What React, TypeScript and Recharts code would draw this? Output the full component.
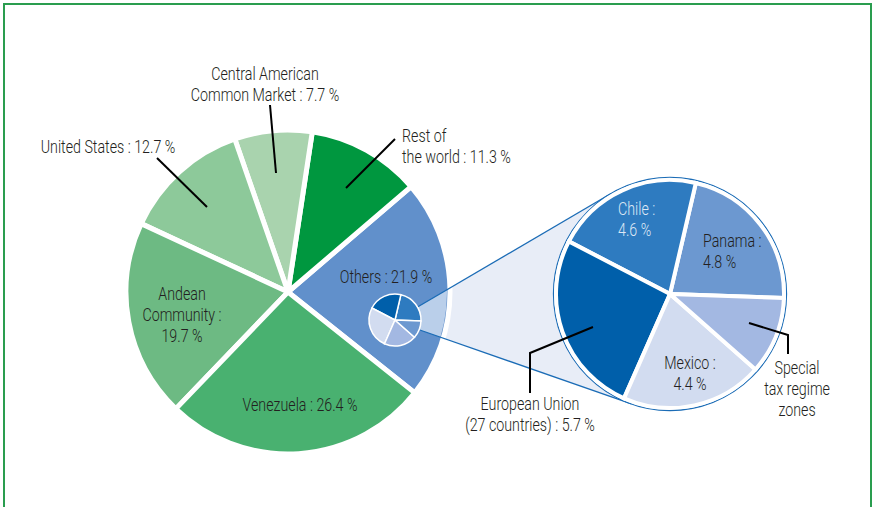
import { Cell, Customized, Pie, PieChart } from "recharts";

// main pie: share of exports by destination (%)
const mainNames = [
	"Others",
	"Rest of the world",
	"Central American Common Market",
	"United States",
	"Andean Community",
	"Venezuela",
];
const mainShares = [21.9, 11.3, 7.7, 12.7, 19.7, 26.4];
const mainColors = ["#6190cb", "#00973f", "#a9d3ae", "#8dc99a", "#6dba83", "#49b170"];

// breakdown of "Others"
const otherNames = ["Panama", "Chile", "European Union (27 countries)", "Mexico", "Special tax regime zones"];
const otherShares = [4.8, 4.6, 5.7, 4.4, 2.4];
const otherColors = ["#6c98d0", "#2e7bc0", "#005faa", "#d2dcf0", "#a3b8e2"];
const miniColors = ["#2e7bc0", "#005faa", "#d2dcf0", "#a3b8e2", "#6c98d0"];

const mainData = mainNames.map((name, i) => ({ name, value: mainShares[i] }));
const otherData = otherNames.map((name, i) => ({ name, value: otherShares[i] }));

const W = 876;
const H = 507;
const MAIN = { cx: 288, cy: 292, r: 162 };
const ZOOM = { cx: 670, cy: 294, r: 114, ring: 116.5 };
const MINI = { cx: 395, cy: 320, r: 26 };

const FONT = "Roboto, 'Noto Sans', sans-serif";
const INK = "#231f20";
const LINK = "#1b6cb6";

const toRad = (d: number) => (d * Math.PI) / 180;

// point on the mini pie edge, screen angle in degrees
const miniEdge = (deg: number) => [MINI.cx + MINI.r * Math.cos(toRad(deg)), MINI.cy + MINI.r * Math.sin(toRad(deg))];

// tangent point from p to the ring around the zoomed pie
function tangent(p: number[], side: number) {
	const dx = ZOOM.cx - p[0];
	const dy = ZOOM.cy - p[1];
	const d = Math.hypot(dx, dy);
	const ang = Math.atan2(dy, dx) + side * Math.asin(ZOOM.ring / d);
	const len = Math.sqrt(d * d - ZOOM.ring * ZOOM.ring);
	return [p[0] + len * Math.cos(ang), p[1] + len * Math.sin(ang)];
}

const upStart = miniEdge(-30);
const lowStart = miniEdge(22);
const upEnd = tangent(upStart, -1);
const lowEnd = tangent(lowStart, 1);
const conePoints = [upStart, upEnd, lowEnd, lowStart].map((p) => p.join(",")).join(" ");

const layer: React.CSSProperties = { position: "absolute", left: 0, top: 0, pointerEvents: "none" };

const Frame = () => <rect x={4} y={4} width={867} height={600} fill="none" stroke="#2a9d4f" strokeWidth={2} />;

const Cone = () => <polygon points={conePoints} fill="#e8edf7" />;

const ConeOverlay = () => (
	<svg width={W} height={H} style={layer}>
		<defs>
			<clipPath id="mainClip">
				<circle cx={MAIN.cx} cy={MAIN.cy} r={MAIN.r - 3} />
			</clipPath>
		</defs>
		<polygon points={conePoints} fill="#e8f0fb" fillOpacity={0.66} clipPath="url(#mainClip)" />
		<line x1={upStart[0]} y1={upStart[1]} x2={upEnd[0]} y2={upEnd[1]} stroke={LINK} strokeWidth={1.3} />
		<line x1={lowStart[0]} y1={lowStart[1]} x2={lowEnd[0]} y2={lowEnd[1]} stroke={LINK} strokeWidth={1.3} />
		<circle cx={ZOOM.cx} cy={ZOOM.cy} r={ZOOM.ring} fill="#fff" stroke={LINK} strokeWidth={1.3} />
	</svg>
);

// condensed look: Roboto squeezed horizontally
const T = ({ x, y, lines, anchor = "middle", fill = INK }: { x: number; y: number; lines: string[]; anchor?: string; fill?: string }) => (
	<text
		transform={`translate(${x},${y}) scale(0.75,1)`}
		textAnchor={anchor as any}
		fill={fill}
		fontFamily={FONT}
		fontWeight={300}
		fontSize={19}
	>
		{lines.map((l, i) => (
			<tspan key={i} x={0} dy={i === 0 ? 0 : 21}>
				{l}
			</tspan>
		))}
	</text>
);

const Labels = () => (
	<svg width={W} height={H} style={layer}>
		<g stroke="#000" strokeWidth={2} fill="none">
			<line x1={270} y1={105} x2={276} y2={173} />
			<line x1={157} y1={158} x2={207} y2={207} />
			<line x1={395} y1={139} x2={346} y2={188} />
			<polyline points="593,327 530,353 530,393" />
			<polyline points="749,323 788,335 788,354" />
		</g>
		<T x={265} y={80} lines={["Central American", "Common Market : 7.7 %"]} />
		<T x={108} y={153} lines={["United States : 12.7 %"]} />
		<T x={402} y={142} lines={["Rest of", "the world : 11.3 %"]} anchor="start" />
		<T x={386} y={283} lines={["Others : 21.9 %"]} />
		<T x={182} y={300} lines={["Andean", "Community :", "19.7 %"]} />
		<T x={300} y={411} lines={["Venezuela : 26.4 %"]} />
		<T x={618} y={215} lines={["Chile :", "4.6 %"]} anchor="start" fill="#dde7f5" />
		<T x={703} y={247} lines={["Panama :", "4.8 %"]} anchor="start" />
		<T x={690} y={369} lines={["Mexico :", "4.4 %"]} />
		<T x={530} y={410} lines={["European Union", "(27 countries) : 5.7 %"]} />
		<T x={797} y={374} lines={["Special", "tax regime", "zones"]} />
	</svg>
);

const ExportsPie = () => {
	return (
		<div style={{ position: "absolute", left: 0, top: 0, width: W, height: H, background: "#fff" }}>
			<div style={layer}>
				<PieChart width={W} height={H} margin={{ top: 0, right: 0, bottom: 0, left: 0 }}>
					<Customized component={Frame} />
					<Customized component={Cone} />
					<Pie
						data={mainData}
						dataKey="value"
						cx={MAIN.cx}
						cy={MAIN.cy}
						outerRadius={MAIN.r}
						startAngle={-38.5}
						endAngle={321.5}
						stroke="#fff"
						strokeWidth={5}
						isAnimationActive={false}
					>
						{mainData.map((d, i) => (
							<Cell key={d.name} fill={mainColors[i]} />
						))}
					</Pie>
				</PieChart>
			</div>
			<ConeOverlay />
			<div style={layer}>
				<PieChart width={W} height={H} margin={{ top: 0, right: 0, bottom: 0, left: 0 }}>
					<Pie
						data={otherData}
						dataKey="value"
						cx={ZOOM.cx}
						cy={ZOOM.cy}
						outerRadius={ZOOM.r}
						startAngle={-2}
						endAngle={358}
						stroke="#fff"
						strokeWidth={4}
						isAnimationActive={false}
					>
						{otherData.map((d, i) => (
							<Cell key={d.name} fill={otherColors[i]} />
						))}
					</Pie>
					<Pie
						data={otherData}
						dataKey="value"
						cx={MINI.cx}
						cy={MINI.cy}
						outerRadius={MINI.r}
						startAngle={-2}
						endAngle={358}
						stroke="#fff"
						strokeWidth={1.5}
						isAnimationActive={false}
					>
						{otherData.map((d, i) => (
							<Cell key={d.name} fill={miniColors[i]} />
						))}
					</Pie>
				</PieChart>
			</div>
			<Labels />
		</div>
	);
};

export default function App() {
	return <ExportsPie />;
}
